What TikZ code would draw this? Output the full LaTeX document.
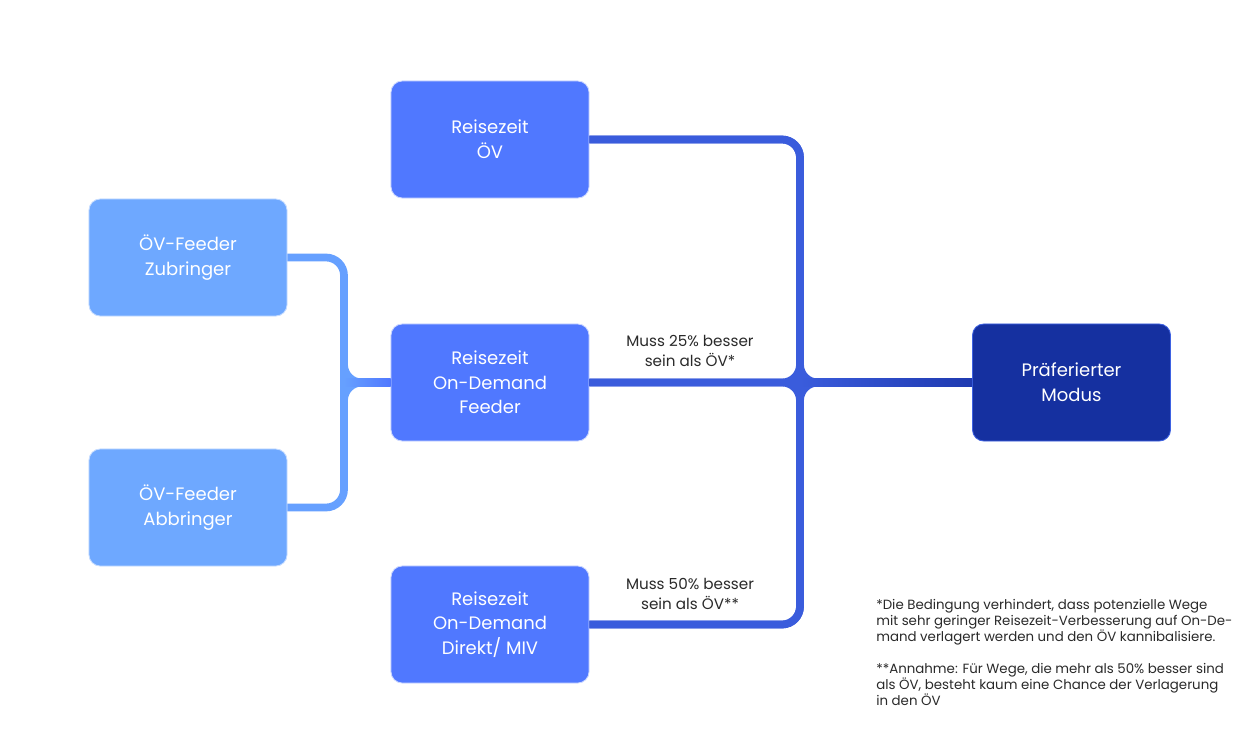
\documentclass[tikz,border=0pt]{standalone}
\usepackage{fontspec}
\setmainfont{Poppins}
\usepackage{xcolor}
\usetikzlibrary{positioning}
\definecolor{feedlight}{HTML}{6EA8FF}
\definecolor{feedmid}{HTML}{5078FF}
\definecolor{feeddark}{HTML}{1530A0}
\definecolor{linemid}{HTML}{3A5CDC}
\definecolor{linedark}{HTML}{1F3AB0}
\definecolor{lineleft}{HTML}{66A0FF}
\definecolor{notegray}{HTML}{2A2A2A}

\begin{document}
\begin{tikzpicture}[
  x=0.025cm, y=-0.025cm,
  box/.style={rounded corners=8pt,align=center,minimum width=4.95cm,minimum height=2.925cm,
    text=white,font=\fontsize{12.8}{17.5}\selectfont,draw=white!70!feedmid,line width=0.6pt},
  lbox/.style={box,fill=feedlight,draw=white!60!feedlight},
  mbox/.style={box,fill=feedmid},
  dbox/.style={box,fill=feeddark,draw=feedmid!70!feeddark},
  lline/.style={draw=lineleft,line width=5.5pt,rounded corners=0.45cm},
  rline/.style={draw=linemid,line width=5.5pt,rounded corners=0.45cm},
  cond/.style={align=center,text=notegray,font=\fontsize{10.8}{14.2}\selectfont}
]
\useasboundingbox[fill=white] (0,0) rectangle (1253,751);
% boxes
\node[lbox] (zub) at (188,257.5) {ÖV-Feeder\\Zubringer};
\node[lbox] (abb) at (188,507.5) {ÖV-Feeder\\Abbringer};
\node[mbox] (oev) at (490,139.5) {Reisezeit\\ÖV};
\node[mbox] (feeder) at (490,382.5) {Reisezeit\\On-Demand\\Feeder};
\node[mbox] (direkt) at (490,624.5) {Reisezeit\\On-Demand\\Direkt/ MIV};
\node[dbox] (modus) at (1071.5,382.5) {Präferierter\\Modus};
% junctions
\coordinate (jl) at (344,382.5);
\coordinate (jr) at (800,382.5);
% connectors: fillets first, straight runs on top
\draw[lline] (zub.east) -| (jl) -- (feeder.west);
\draw[lline] (abb.east) -| (jl) -- (feeder.west);
\draw[lline] ([yshift=0.6cm]jl) -- ([yshift=-0.6cm]jl);
\shade[left color=lineleft,right color=feedmid]
  ([yshift=2.75pt]jl) rectangle ([yshift=-2.75pt]feeder.west);
\draw[rline] (oev.east) -| (jr) -- (modus.west);
\draw[rline] (oev.east) -| (jr) -- (feeder.east);
\draw[rline] (direkt.east) -| (jr) -- (modus.west);
\draw[rline] (direkt.east) -| (jr) -- (feeder.east);
\draw[rline] ([yshift=0.6cm]jr) -- ([yshift=-0.6cm]jr);
\draw[rline] (feeder.east) -- (jr);
\shade[left color=linemid,right color=linedark]
  ([yshift=2.75pt]jr) rectangle ([yshift=-2.75pt]modus.west);
% conditions
\node[cond] (c25) at (690,351) {Muss 25\% besser\\sein als ÖV*};
\node[cond] (c50) at (690,594) {Muss 50\% besser\\sein als ÖV**};
% footnotes
\node[anchor=north west,align=left,text=notegray,inner sep=0pt,
  font=\fontsize{9.5}{11.4}\selectfont] (note) at (876,599)
  {*Die Bedingung verhindert, dass potenzielle Wege\\
   mit sehr geringer Reisezeit-Verbesserung auf On-De-\\
   mand verlagert werden und den ÖV kannibalisiere.\\[11.4pt]
   **Annahme: Für Wege, die mehr als 50\% besser sind\\
   als ÖV, besteht kaum eine Chance der Verlagerung\\
   in den ÖV};
\end{tikzpicture}
\end{document}
